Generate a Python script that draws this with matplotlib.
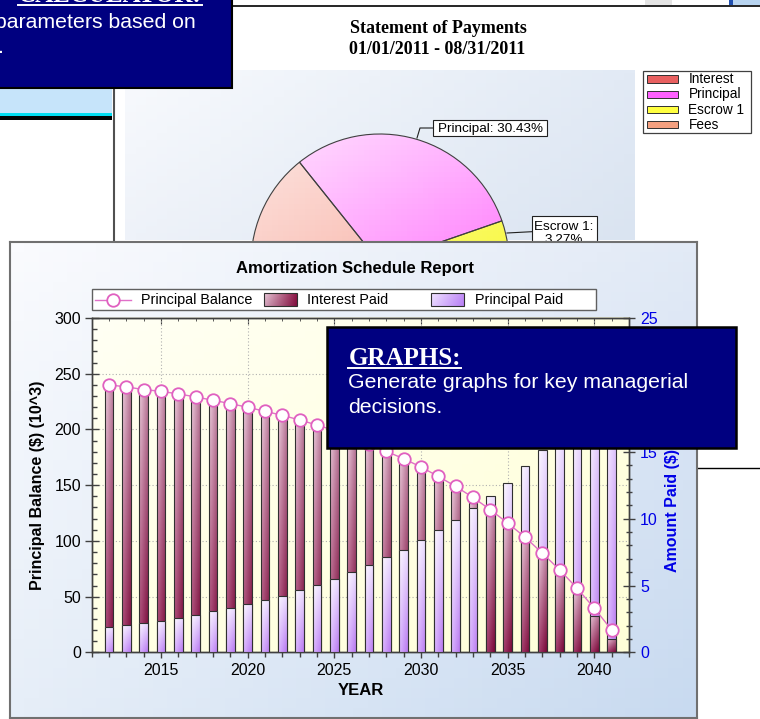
import numpy as np
import matplotlib
matplotlib.use("Agg")
import matplotlib.pyplot as plt
from matplotlib.patches import Rectangle
from matplotlib.lines import Line2D
from matplotlib.colors import to_rgb
from matplotlib.ticker import MultipleLocator

# données
years = list(range(2012, 2042))
principal_balance = [240.0, 238.2, 235.8, 234.2, 231.9, 229.2, 226.2, 223.2, 219.9, 216.3,
                     212.7, 208.5, 204.0, 199.0, 193.5, 187.0, 180.3, 173.8, 166.3, 157.9,
                     148.9, 139.0, 128.0, 116.0, 103.4, 89.0, 74.0, 57.6, 39.6, 20.1]
interest_paid = [19.8, 19.65, 19.5, 19.35, 19.15, 18.9, 18.65, 18.4, 18.1, 17.8,
                 17.5, 17.1, 16.75, 16.35, 15.85, 15.35, 14.8, 14.25, 13.55, 12.85,
                 12.05, 11.2, 10.3, 9.3, 8.3, 7.15, 5.8, 4.35, 2.75, 1.0]
principal_paid = [1.88, 2.05, 2.18, 2.37, 2.55, 2.82, 3.08, 3.35, 3.60, 3.92,
                  4.25, 4.65, 5.02, 5.47, 6.00, 6.52, 7.12, 7.69, 8.42, 9.14,
                  9.92, 10.79, 11.66, 12.70, 13.90, 15.10, 16.40, 17.80, 19.40, 21.00]
series_labels = ['Principal Balance', 'Interest Paid', 'Principal Paid']

pie_labels = ['Interest', 'Principal', 'Escrow 1', 'Fees']
pie_shares = [62.83, 30.43, 3.27, 3.47]

W, H = 760, 719
plt.rcParams['font.family'] = ['Liberation Sans', 'DejaVu Sans']
fig = plt.figure(figsize=(W / 100, H / 100), dpi=100)
fig.patch.set_facecolor('white')
SERIF = ['Liberation Serif', 'DejaVu Serif']


def fx(x):
    return x / W


def fy(y):
    return 1 - y / H


def px_axes(x0, y0, x1, y1, z):
    return fig.add_axes([x0 / W, 1 - y1 / H, (x1 - x0) / W, (y1 - y0) / H], zorder=z)


def grad(tl, tr, bl, br, n=48):
    t = np.linspace(0, 1, n)[:, None, None]
    s = np.linspace(0, 1, n)[None, :, None]
    tl, tr, bl, br = [np.array(to_rgb(c)) for c in (tl, tr, bl, br)]
    top = tl * (1 - s) + tr * s
    bot = bl * (1 - s) + br * s
    return top * (1 - t) + bot * t


def frect(x0, y0, x1, y1, z, **kw):
    r = Rectangle((fx(x0), fy(y1)), (x1 - x0) / W, (y1 - y0) / H,
                  transform=fig.transFigure, zorder=z, **kw)
    fig.add_artist(r)
    return r


def fline(xs, ys, z, **kw):
    fig.add_artist(Line2D([fx(x) for x in xs], [fy(y) for y in ys],
                          transform=fig.transFigure, zorder=z, **kw))


# ---- fenêtre "Statement of Payments" (arrière-plan) ----
fline([232, 760], [6, 6], 1.5, color='black', lw=1.2)
frect(645, 0, 672, 5, 1.5, facecolor='#E4E4E4', edgecolor='none')
frect(729, 0, 733, 5, 1.5, facecolor='#2050B0', edgecolor='none')
frect(733, 0, 760, 5, 1.5, facecolor='#B8D4F0', edgecolor='none')
fline([114, 114], [88, 242], 1.5, color='#505050', lw=1.5)

fig.text(fx(438), fy(33.3), 'Statement of Payments', family=SERIF, fontweight='bold',
         fontsize=13, ha='center', va='baseline', zorder=2)
fig.text(fx(437), fy(54.3), '01/01/2011 - 08/31/2011', family=SERIF, fontweight='bold',
         fontsize=13, ha='center', va='baseline', zorder=2)

ax_panel = px_axes(125, 70, 635, 240, 1)
ax_panel.imshow(grad('#F8FAFD', '#E2EAF5', '#EEF2F9', '#DAE4F1'), extent=(0, 1, 0, 1), aspect='auto')
ax_panel.axis('off')

ax_pie = px_axes(251, 134, 509, 392, 2)
wedges, _ = ax_pie.pie(pie_shares, startangle=354.8, counterclock=False, radius=1,
                       wedgeprops=dict(edgecolor='#404040', linewidth=0.8))
pie_grads = [grad('#FDE4E0', '#FBC8C0', '#F8B8AC', '#F49888'),
             grad('#FFE0FF', '#FFB0FF', '#FF90FF', '#FF50F8'),
             grad('#FFFFB0', '#FFFF70', '#FFFF60', '#F0F020'),
             grad('#FCD0B8', '#F8B098', '#F8A888', '#F09070')]
for w, g in zip(wedges, pie_grads):
    im = ax_pie.imshow(g, extent=(-1, 1, -1, 1), aspect='auto', zorder=0.5)
    im.set_clip_path(w)
    w.set_facecolor('none')
    w.set_zorder(1)
ax_pie.set_xlim(-1, 1)
ax_pie.set_ylim(-1, 1)
ax_pie.axis('off')

# étiquettes du camembert
frect(433, 120, 547, 136, 2.5, facecolor='white', edgecolor='#202020', lw=0.8)
fig.text(fx(437.5), fy(132.3), 'Principal: 30.43%', fontsize=9.7, va='baseline', zorder=2.6)
fline([417, 420, 433], [138, 128, 128], 2.5, color='#202020', lw=0.8)
frect(531.7, 216, 596.7, 252, 2.5, facecolor='white', edgecolor='#202020', lw=0.8)
fig.text(fx(564), fy(230), 'Escrow 1:', fontsize=9.7, ha='center', va='baseline', zorder=2.6)
fig.text(fx(564), fy(243), '3.27%', fontsize=9.7, ha='center', va='baseline', zorder=2.6)
fline([507, 531.7], [233, 231.7], 2.5, color='#202020', lw=0.8)

# légende du camembert
frect(643, 71, 751, 133, 2.5, facecolor='white', edgecolor='#404040', lw=0.9)
leg_cols = ['#E86060', '#FF60FF', '#FFFF40', '#F4A080']
for i, (lab, c) in enumerate(zip(pie_labels, leg_cols)):
    yc = 79 + i * 15.3
    frect(647, yc - 3.5, 678, yc + 3.5, 2.6, facecolor=c, edgecolor='#303030', lw=0.7)
    fig.text(fx(688.5), fy(yc), lab, fontsize=9.8, va='center', zorder=2.6)

# ---- encadré en haut à gauche ----
frect(0, 88, 112, 113, 3, facecolor='#C6E4FA', edgecolor='none')
frect(0, 113, 112, 116, 3, facecolor='#00DCF0', edgecolor='none')
frect(0, 116, 112, 120, 3, facecolor='black', edgecolor='none')
frect(-5, -5, 231.5, 88, 3, facecolor='#000080', edgecolor='black', lw=1.5)
t_calc = fig.text(fx(201.7), fy(2.3), 'CALCULATOR:', family=SERIF, fontweight='bold',
                  fontsize=18, color='white', ha='right', va='baseline', zorder=3.5)
fig.text(fx(196), fy(28.3), 'parameters based on', fontsize=15.3, color='white',
         ha='right', va='baseline', zorder=3.5)
fig.text(fx(-1.5), fy(53), '.', fontsize=15.3, color='white', va='baseline', zorder=3.5)

# ---- fenêtre "Amortization Schedule Report" ----
ax_win = px_axes(10, 242, 697, 718, 4)
ax_win.imshow(grad('#FAFBFE', '#E2EAF6', '#E6EEF8', '#C8DAF0'), extent=(10, 697, 718, 242), aspect='auto')
ax_win.imshow(grad('#FFFFF4', '#FFFFE4', '#FFFFE4', '#FFFFD8'), extent=(91.7, 629, 652.4, 318), aspect='auto')

# légende (dessinée à la main pour garder les colonnes fixes)
ax_win.add_patch(Rectangle((92, 289), 504, 21, facecolor='white', edgecolor='#606060', lw=1, zorder=3))
ax_win.plot([95, 131], [299.5, 299.5], color='#E070C8', lw=1, zorder=4)
ax_win.plot([113], [299.5], marker='o', ms=9, mfc='white', mec='#E060C0', mew=1.3, zorder=4)
for x0, g in ((264, grad('#E8C8D8', '#901848', '#D0A0B8', '#801040')),
              (431, grad('#F0E4FF', '#C490F8', '#E4D0FF', '#B880F4'))):
    ax_win.imshow(g, extent=(x0, x0 + 33, 305.5, 292.5), aspect='auto', zorder=4)
    ax_win.add_patch(Rectangle((x0, 292.5), 33, 13, facecolor='none', edgecolor='#303030',
                               lw=0.8, zorder=4.5))
for xt, lab in zip((141, 307, 475), series_labels):
    ax_win.text(xt, 299.5, lab, fontsize=10.4, va='center', zorder=5)

ax_win.set_xlim(10, 697)
ax_win.set_ylim(718, 242)
ax_win.set_xticks([])
ax_win.set_yticks([])
for s in ax_win.spines.values():
    s.set_color('#707070')
    s.set_linewidth(1.5)

fline([698, 760], [467.7, 467.7], 4, color='black', lw=1)

fig.text(fx(355), fy(272.7), 'Amortization Schedule Report', fontsize=12, fontweight='bold',
         ha='center', va='baseline', zorder=8)

ax = px_axes(91.7, 318, 629, 652.4, 5)
ax.patch.set_visible(False)
axr = ax.twinx()
axr.set_zorder(6)
axr.patch.set_visible(False)
axl = ax.twinx()
axl.set_zorder(7)
axl.patch.set_visible(False)

# barres superposées : la plus petite devant
bars_i = axr.bar(years, interest_paid, width=0.5, edgecolor='#303030', linewidth=0.8)
bars_p = axr.bar(years, principal_paid, width=0.5, edgecolor='#303030', linewidth=0.8)
g_int = grad('#ECCCDC', '#B87898', '#A84070', '#780838')
g_pri = grad('#FCF8FF', '#EADCFF', '#DAB6FF', '#B878F0')
for k in range(len(years)):
    front_int = interest_paid[k] < principal_paid[k]
    for r, g, front in ((bars_i[k], g_int, front_int), (bars_p[k], g_pri, not front_int)):
        z = 3 if front else 2
        x0, w, h = r.get_x(), r.get_width(), r.get_height()
        im = axr.imshow(g, extent=(x0, x0 + w, 0, h), aspect='auto', zorder=z)
        im.set_clip_path(r)
        r.set_facecolor('none')
        r.set_zorder(z + 0.05)

axl.plot(years, principal_balance, color='#E070C8', lw=1, marker='o', ms=9,
         mfc='white', mec='#E060C0', mew=1.3, zorder=5)

ax.set_xlim(2011, 2042)
ax.set_ylim(0, 300)
axr.set_ylim(0, 25)
axl.set_ylim(0, 300)
axl.axis('off')

spc = '#404040'
for a in (ax, axr):
    for s in a.spines.values():
        s.set_color(spc)
        s.set_linewidth(1)

ax.xaxis.set_major_locator(MultipleLocator(5))
ax.xaxis.set_minor_locator(MultipleLocator(1))
ax.yaxis.set_major_locator(MultipleLocator(50))
ax.yaxis.set_minor_locator(MultipleLocator(10))
axr.yaxis.set_major_locator(MultipleLocator(5))
axr.yaxis.set_minor_locator(MultipleLocator(1))

ax.tick_params(axis='x', which='major', direction='out', length=4, width=1, color=spc,
               labelsize=11.5, pad=3.3)
ax.tick_params(axis='x', which='minor', direction='out', length=3.6, width=1, color=spc)
ax.tick_params(axis='y', which='major', direction='inout', length=9.4, width=1, color=spc,
               labelsize=11.5, pad=3)
ax.tick_params(axis='y', which='minor', direction='in', length=3.6, width=1, color=spc)
axr.tick_params(axis='y', which='major', direction='inout', length=8.6, width=1, color=spc,
                labelsize=11.5, labelcolor='#0000E6', pad=3.6)
axr.tick_params(axis='y', which='minor', direction='inout', length=5, width=1, color=spc)

top = ax.secondary_xaxis('top')
top.xaxis.set_major_locator(MultipleLocator(5))
top.xaxis.set_minor_locator(MultipleLocator(1))
top.tick_params(which='major', direction='in', length=4.3, color=spc, labeltop=False)
top.tick_params(which='minor', direction='in', length=2.5, color=spc)
top.spines['top'].set_color(spc)

ax.grid(True, which='major', linestyle=(0, (1, 2)), color='#B0B0B0', linewidth=0.8)

ax.set_xlabel('YEAR', fontsize=12, fontweight='bold')
ax.xaxis.set_label_coords(0.5, -0.0915)
ax.set_ylabel('Principal Balance ($) (10^3)', fontsize=11.5, fontweight='bold')
ax.yaxis.set_label_coords(-0.087, 0.5)
axr.set_ylabel('Amount Paid ($) (10^3)', fontsize=11.5, fontweight='bold', color='#0000E6')
axr.yaxis.set_label_coords(1.067, 0.5)

# ---- encadré "GRAPHS:" ----
frect(327.3, 327.3, 736, 448.3, 9, facecolor='#000080', edgecolor='black', lw=1.8)
t_graphs = fig.text(fx(348.3), fy(365), 'GRAPHS:', family=SERIF, fontweight='bold',
                    fontsize=18, color='white', va='baseline', zorder=10)
fig.text(fx(348.3), fy(388), 'Generate graphs for key managerial', fontsize=15.3,
         color='white', va='baseline', zorder=10)
fig.text(fx(348.3), fy(413), 'decisions.', fontsize=15.3, color='white', va='baseline', zorder=10)

# soulignements
renderer = fig.canvas.get_renderer()
for t, yline, z in ((t_graphs, 367.5, 10), (t_calc, 4.8, 3.5)):
    bb = t.get_window_extent(renderer)
    fline([bb.x0, bb.x1], [yline, yline], z, color='white', lw=1.4)

fig.savefig('out.png', dpi=100)
